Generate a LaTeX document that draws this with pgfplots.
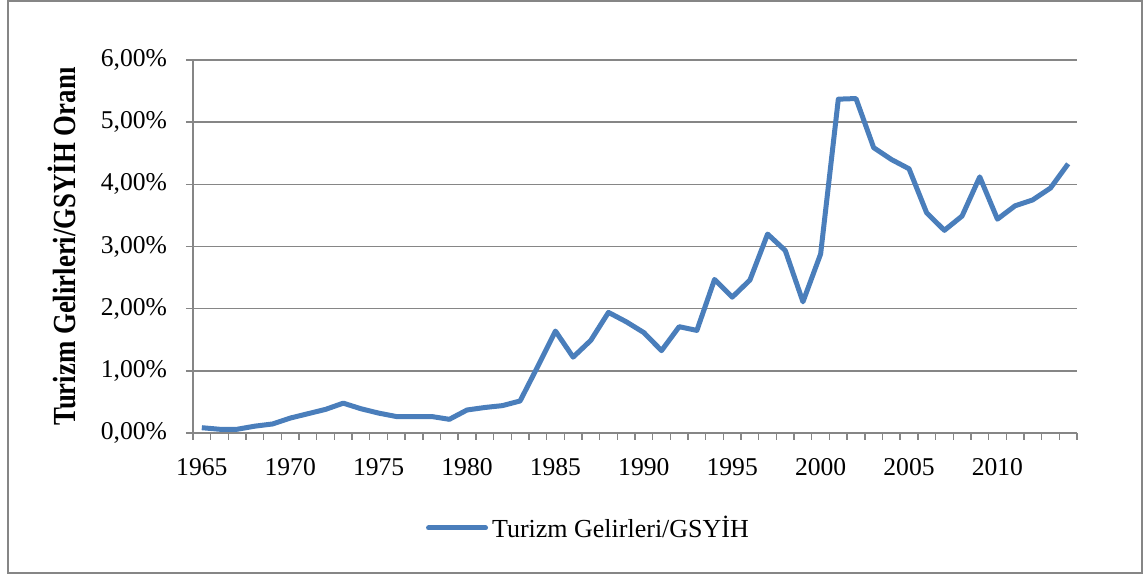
\documentclass[border=0pt]{standalone}
\usepackage{fontspec}
\setmainfont{Liberation Serif}
\usepackage{graphicx}
\usepackage{pgfplots}
\pgfplotsset{compat=1.18}
\definecolor{serie}{RGB}{74,126,187}
\definecolor{gridc}{RGB}{134,134,134}

\begin{document}
\begin{tikzpicture}
% 1 px of the reference = 0.5pt
\path[use as bounding box] (-96.5pt,-71.5pt) rectangle (477pt,216.5pt);
\begin{axis}[
    at={(0pt,0pt)}, anchor=south west,
    scale only axis, width=442pt, height=186.5pt,
    xmin=1964.5, xmax=2014.5, ymin=0, ymax=6,
    axis x line*=bottom, axis y line*=left,
    axis line style={gridc, line width=0.8pt, -},
    tick align=outside,
    major tick length=3.5pt,
    tick style={gridc, line width=0.7pt},
    xtick={1964.5,1965.5,...,2014.5}, xticklabels={},
    extra x ticks={1965,1970,...,2010},
    extra x tick labels={1965,1970,1975,1980,1985,1990,1995,2000,2005,2010},
    extra x tick style={major tick length=0pt},
    ytick={0,1,...,6},
    yticklabels={{0,00\%},{1,00\%},{2,00\%},{3,00\%},{4,00\%},{5,00\%},{6,00\%}},
    ymajorgrids, grid style={gridc, line width=0.75pt},
    ticklabel style={font=\fontsize{12.8}{14}\selectfont},
    xticklabel style={yshift=-9pt},
    yticklabel style={xshift=-6pt},
    ylabel={\scalebox{1}[1.2]{\bfseries\fontsize{13.4}{15}\selectfont Turizm Gelirleri/GSYİH Oranı}},
    ylabel style={at={(axis description cs:-0.148,0.5)}, anchor=center},
    legend style={at={(axis description cs:0.4485,-0.2547)}, anchor=center,
        draw=none, fill=none, font=\fontsize{13}{15}\selectfont},
    legend image code/.code={\draw[#1, line cap=round] (0pt,0pt) -- (28.5pt,0pt);},
]
\addplot[serie, line width=2.5pt, line join=round] coordinates {
(1965,0.085) (1966,0.06) (1967,0.06) (1968,0.11) (1969,0.145)
(1970,0.24) (1971,0.31) (1972,0.38) (1973,0.48) (1974,0.39)
(1975,0.32) (1976,0.265) (1977,0.265) (1978,0.265) (1979,0.22)
(1980,0.37) (1981,0.41) (1982,0.44) (1983,0.515) (1984,1.07)
(1985,1.64) (1986,1.22) (1987,1.49) (1988,1.94) (1989,1.79)
(1990,1.615) (1991,1.325) (1992,1.71) (1993,1.65) (1994,2.47)
(1995,2.185) (1996,2.46) (1997,3.20) (1998,2.935) (1999,2.11)
(2000,2.88) (2001,5.37) (2002,5.38) (2003,4.59) (2004,4.40)
(2005,4.25) (2006,3.54) (2007,3.26) (2008,3.49) (2009,4.12)
(2010,3.44) (2011,3.655) (2012,3.75) (2013,3.94) (2014,4.33)
};
\addlegendentry{Turizm Gelirleri/GSYİH}
\end{axis}
\draw[gridc, line width=1pt] (-92.5pt,-70pt) rectangle (474.5pt,216pt);
\end{tikzpicture}
\end{document}
